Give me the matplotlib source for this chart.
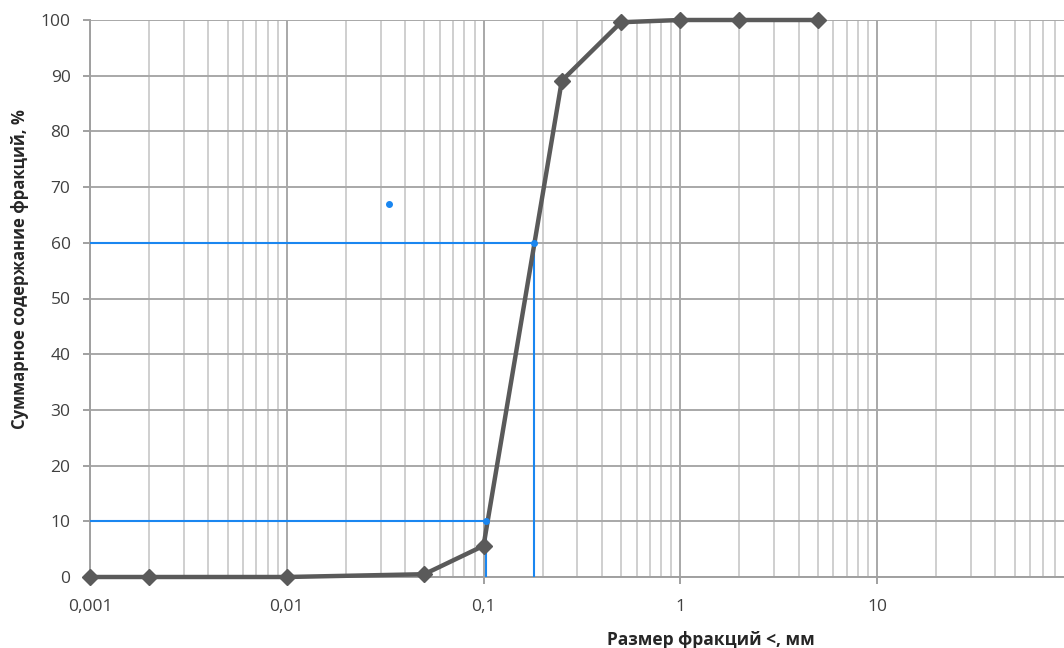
import matplotlib
matplotlib.use("Agg")
import matplotlib.pyplot as plt
from matplotlib.ticker import FixedLocator, LogLocator, NullFormatter, FixedFormatter

# Data
sizes_mm = [0.001, 0.002, 0.01, 0.05, 0.1, 0.25, 0.5, 1, 2, 5]
cumulative_pct = [0, 0, 0, 0.5, 5.6, 89.1, 99.6, 100, 100, 100]

d10 = 0.103
d60 = 0.181
levels = [10, 60]
extra_point = (0.0331, 67)

x_ticks = [0.001, 0.01, 0.1, 1, 10]
x_ticklabels = ["0,001", "0,01", "0,1", "1", "10"]
y_ticks = list(range(0, 101, 10))

x_label = "Размер фракций <, мм"
y_label = "Суммарное содержание фракций, %"

plt.rcParams['font.family'] = ['Open Sans', 'DejaVu Sans']

fig = plt.figure(figsize=(10.64, 6.48), dpi=100)
ax = fig.add_axes([90 / 1064, 71 / 648, 1 - 90 / 1064, (577 - 20) / 648])

ax.set_xscale('log')
ax.set_xlim(0.001, 89.2)
ax.set_ylim(0, 100)

# grid
ax.xaxis.set_major_locator(FixedLocator(x_ticks))
ax.xaxis.set_major_formatter(FixedFormatter(x_ticklabels))
ax.xaxis.set_minor_locator(LogLocator(base=10, subs=range(2, 10)))
ax.xaxis.set_minor_formatter(NullFormatter())
ax.set_yticks(y_ticks)

ax.grid(True, which='major', axis='both', color='#a8a8a8', lw=1.4)
ax.grid(True, which='minor', axis='x', color='#cbcbcb', lw=1.3)
ax.set_axisbelow(True)

for s in ['top', 'right']:
    ax.spines[s].set_visible(False)
ax.spines['left'].set_color('#a0a0a0')
ax.spines['bottom'].set_color('#a0a0a0')
ax.spines['left'].set_linewidth(1.4)
ax.spines['bottom'].set_linewidth(1.4)

ax.tick_params(axis='x', which='major', length=5, color='#a0a0a0', width=1.4,
               labelsize=12.5, labelcolor='#404040', pad=11)
ax.tick_params(axis='x', which='minor', length=0)
ax.tick_params(axis='y', which='major', length=5, color='#a0a0a0', width=1.4,
               labelsize=12.5, labelcolor='#404040', pad=9)

# blue helper lines
blue = '#1a86f0'
for dv, lv in zip([d10, d60], levels):
    ax.plot([0.001, dv], [lv, lv], color=blue, lw=1.5, zorder=3)
    ax.plot([dv, dv], [0, lv], color=blue, lw=1.5, zorder=3)

# main curve
ax.plot(sizes_mm, cumulative_pct, color='#5a5a5a', lw=3.2, marker='D',
        markersize=8.5, markerfacecolor='#5a5a5a', markeredgecolor='#5a5a5a',
        zorder=4, clip_on=False)

for dv, lv in zip([d10, d60], levels):
    ax.plot([dv], [lv], 'o', color=blue, markersize=4, zorder=5)
ax.plot([extra_point[0]], [extra_point[1]], 'o', color=blue, markersize=4, zorder=5)

ax.set_xlabel(x_label, fontsize=12.5, fontweight='bold', color='#262626')
ax.set_ylabel(y_label, fontsize=12, fontweight='bold', color='#262626')
ax.xaxis.set_label_coords((711 - 90) / 974, -(640 - 577) / 557, transform=None)
ax.xaxis.label.set_verticalalignment('center')
ax.xaxis.set_label_coords((711 - 90) / 974, -(640 - 577) / 557)
ax.yaxis.set_label_coords(-(90 - 20) / 974, (577 - 269) / 557)
ax.yaxis.label.set_verticalalignment('center')

fig.savefig('out.png', dpi=100)
